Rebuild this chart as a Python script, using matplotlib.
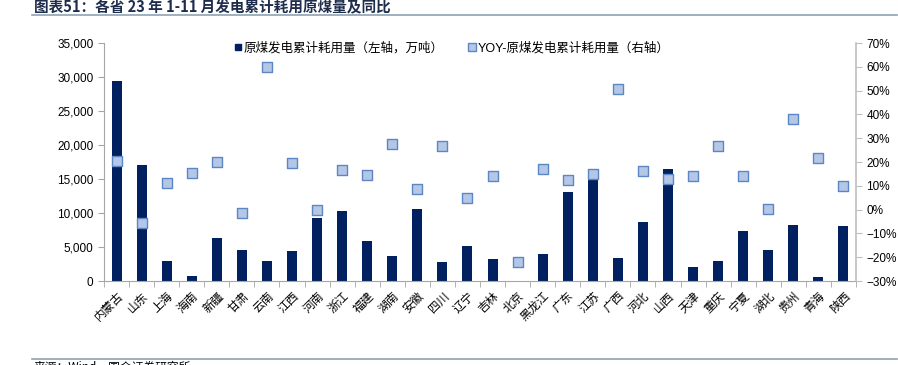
import matplotlib
matplotlib.use("Agg")
import matplotlib.pyplot as plt
from matplotlib.ticker import FuncFormatter, MultipleLocator
from matplotlib.lines import Line2D
import numpy as np

plt.rcParams['font.family'] = ['Liberation Sans', 'Noto Sans CJK SC', 'DejaVu Sans']

provinces = ['内蒙古', '山东', '上海', '海南', '新疆', '甘肃', '云南', '江西', '河南', '浙江',
             '福建', '湖南', '安徽', '四川', '辽宁', '吉林', '北京', '黑龙江', '广东', '江苏',
             '广西', '河北', '山西', '天津', '重庆', '宁夏', '湖北', '贵州', '青海', '陕西']
coal_use = [29400, 17000, 3000, 750, 6300, 4500, 3000, 4400, 9200, 10300,
            5900, 3700, 10600, 2850, 5200, 3250, 30, 4000, 13100, 16300,
            3450, 8700, 16450, 2050, 2950, 7350, 4500, 8200, 650, 8050]
yoy = [20.4, -5.6, 11.0, 15.2, 19.9, -1.3, 59.8, 19.6, -0.3, 16.5,
       14.5, 27.7, 8.7, 26.9, 4.7, 14.3, -21.9, 17.1, 12.4, 15.0,
       50.5, 16.2, 12.9, 14.0, 26.7, 14.0, 0.4, 37.9, 21.5, 9.8]

W, H = 898, 365
fig = plt.figure(figsize=(W / 100, H / 100), dpi=100)
ax = fig.add_axes([104 / W, (H - 281) / H, 752 / W, 238 / H])
ax2 = ax.twinx()

x = np.arange(len(provinces))
bar_color = '#002060'
ax.bar(x, coal_use, width=0.4, color=bar_color, zorder=2)
ax2.scatter(x, yoy, marker='s', s=55, facecolor='#B4C7E7', edgecolor='#5B87C5',
            linewidth=1, zorder=3)

ax.set_xlim(-0.5, len(provinces) - 0.5)
ax.set_ylim(0, 35000)
ax.yaxis.set_major_locator(MultipleLocator(5000))
ax.yaxis.set_major_formatter(FuncFormatter(lambda v, p: f"{v:,.0f}"))
ax2.set_ylim(-30, 70)
ax2.yaxis.set_major_locator(MultipleLocator(10))
ax2.yaxis.set_major_formatter(FuncFormatter(lambda v, p: f"{v:.0f}%".replace('-', '\u2212')))

# category labels, with tick marks between the categories
ax.set_xticks(x)
ax.set_xticklabels(provinces, rotation=45, ha='right', va='top', rotation_mode='anchor',
                   fontsize=8.5, family=['Noto Sans CJK SC'])
ax.tick_params(axis='x', length=0, pad=6)
ax.set_xticks(np.arange(-0.5, len(provinces), 1), minor=True)
ax.tick_params(axis='x', which='minor', length=4, color='#A6A6A6', direction='out')

ax.tick_params(axis='y', labelsize=8.5, length=4, color='#A6A6A6')
ax2.tick_params(axis='y', labelsize=8.5, length=4, color='#BFBFBF')

for a in (ax, ax2):
    a.spines['top'].set_visible(False)
ax.spines['left'].set_color('#A6A6A6')
ax.spines['bottom'].set_color('#A6A6A6')
ax.spines['right'].set_visible(False)
ax2.spines['left'].set_visible(False)
ax2.spines['bottom'].set_visible(False)
ax2.spines['right'].set_color('#BFBFBF')
ax2.spines['right'].set_linewidth(1.2)

handles = [
    Line2D([], [], marker='s', linestyle='none', markersize=5, markerfacecolor=bar_color,
           markeredgecolor=bar_color),
    Line2D([], [], marker='s', linestyle='none', markersize=6, markerfacecolor='#B4C7E7',
           markeredgecolor='#5B87C5'),
]
labels = ['原煤发电累计耗用量（左轴，万吨）', 'YOY-原煤发电累计耗用量（右轴）']
fig.legend(handles, labels, loc='center left', bbox_to_anchor=(234 / W, 1 - 48 / H),
           ncol=2, frameon=False, fontsize=9, handlelength=0.6, handletextpad=0.2,
           columnspacing=1.9, borderpad=0, borderaxespad=0)

# title and frame lines
fig.text(34 / W, 1 - 12 / H, '图表51：各省 23 年 1-11 月发电累计耗用原煤量及同比',
         fontsize=10.5, fontweight='bold', color='#1F2D4D', va='baseline',
         family=['Noto Sans CJK SC'])
fig.add_artist(Line2D([32 / W, 897 / W], [1 - 15 / H, 1 - 15 / H], color='#8DA2B3', linewidth=1.2))
fig.add_artist(Line2D([32 / W, 897 / W], [1 - 359 / H, 1 - 359 / H], color='#8DA2B3', linewidth=1.2))
fig.text(34 / W, 1 - 371 / H, '来源：Wind，国金证券研究所', fontsize=8.5, va='baseline',
         family=['Noto Sans CJK SC'])

fig.savefig('out.png', dpi=100)
